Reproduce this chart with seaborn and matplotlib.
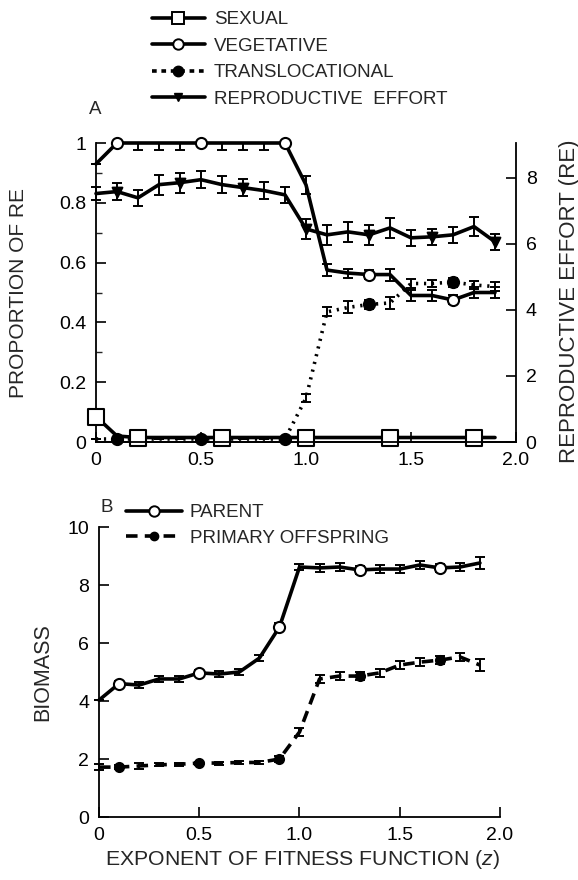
import numpy as np
import matplotlib
matplotlib.use("Agg")
import matplotlib.pyplot as plt
import seaborn as sns
from matplotlib.lines import Line2D
from matplotlib.ticker import MultipleLocator

# exponent of fitness function
z = [0.0, 0.1, 0.2, 0.3, 0.4, 0.5, 0.6, 0.7, 0.8, 0.9,
     1.0, 1.1, 1.2, 1.3, 1.4, 1.5, 1.6, 1.7, 1.8, 1.9]

# panel A: proportion of RE
sexual = [0.085, 0.02, 0.015, 0.015, 0.015, 0.015, 0.015, 0.015, 0.015, 0.015,
          0.015, 0.015, 0.015, 0.015, 0.015, 0.015, 0.015, 0.015, 0.015, 0.015]
vegetative = [0.93, 1.0, 1.0, 1.0, 1.0, 1.0, 1.0, 1.0, 1.0, 1.0,
              0.86, 0.575, 0.565, 0.56, 0.56, 0.49, 0.49, 0.475, 0.50, 0.50]
veg_err_lo = [0, 0, 0.025, 0.025, 0.025, 0, 0.025, 0.025, 0.025, 0,
              0.03, 0.02, 0.015, 0.015, 0.02, 0.02, 0.02, 0.015, 0.02, 0.02]
veg_err_hi = [0, 0, 0, 0, 0, 0, 0, 0, 0, 0,
              0.03, 0.02, 0.015, 0.015, 0.02, 0.02, 0.02, 0.015, 0.02, 0.02]
transloc = [0.01, 0.01, 0.01, 0.01, 0.01, 0.01, 0.01, 0.01, 0.01, 0.01,
            0.147, 0.435, 0.45, 0.46, 0.465, 0.53, 0.53, 0.535, 0.525, 0.52]
trans_err = [0, 0, 0, 0, 0, 0, 0, 0, 0, 0,
             0.012, 0.015, 0.02, 0.015, 0.02, 0.015, 0.012, 0.015, 0.012, 0.015]
# reproductive effort (right axis)
re_eff = [7.52, 7.58, 7.39, 7.79, 7.85, 7.94, 7.79, 7.70, 7.61, 7.48,
          6.45, 6.27, 6.36, 6.27, 6.48, 6.18, 6.21, 6.27, 6.52, 6.06]
re_err = [0.2, 0.25, 0.25, 0.3, 0.3, 0.25, 0.25, 0.25, 0.25, 0.25,
          0.3, 0.3, 0.3, 0.3, 0.3, 0.25, 0.25, 0.25, 0.3, 0.25]

# panel B: biomass
parent = [4.03, 4.6, 4.55, 4.76, 4.76, 4.97, 4.93, 5.0, 5.48, 6.55,
          8.62, 8.59, 8.62, 8.52, 8.55, 8.55, 8.69, 8.59, 8.62, 8.76]
parent_err = [0, 0.1, 0.1, 0.1, 0.1, 0.1, 0.1, 0.1, 0.1, 0.15,
              0.1, 0.15, 0.15, 0.15, 0.15, 0.15, 0.15, 0.15, 0.15, 0.2]
offspring = [1.72, 1.72, 1.76, 1.80, 1.82, 1.86, 1.86, 1.88, 1.88, 2.0,
             2.93, 4.76, 4.86, 4.86, 4.97, 5.24, 5.34, 5.41, 5.52, 5.24]
off_err = [0.1, 0.08, 0.1, 0.05, 0.05, 0.05, 0.05, 0.05, 0.05, 0.1,
           0.15, 0.15, 0.15, 0.15, 0.15, 0.15, 0.15, 0.15, 0.15, 0.2]

x_ticks = [0, 0.5, 1.0, 1.5, 2.0]
x_tick_labels = ["0", "0.5", "1.0", "1.5", "2.0"]
prop_ticks = [0, 0.2, 0.4, 0.6, 0.8, 1.0]
prop_labels = ["0", "0.2", "0.4", "0.6", "0.8", "1"]

sns.set_theme(style="ticks")
plt.rcParams["font.family"] = ["Liberation Sans", "DejaVu Sans"]
plt.rcParams["mathtext.fontset"] = "custom"
plt.rcParams["mathtext.rm"] = "Liberation Sans"
plt.rcParams["mathtext.it"] = "Liberation Sans:italic"
FS_TICK = 14
FS_LAB = 15
FS_LEG = 13.5

fig = plt.figure(figsize=(5.78, 8.8), dpi=100)
axA = fig.add_axes([96 / 578, 1 - 442 / 880, 420 / 578, 299 / 880])
axR = axA.twinx()
axB = fig.add_axes([99 / 578, 1 - 817 / 880, 401 / 578, 290 / 880])

LW = 2.6
dots = (0, (0.6, 1.6))
dashes = (0, (3.2, 2.0))


def pick(vals, idx):
    return [vals[i] for i in idx]


def series(ax, y, err, ls, marker, idx, face, ms, z_order=3):
    sns.lineplot(x=z, y=y, ax=ax, color="black", linewidth=LW, linestyle=ls,
                 clip_on=False, zorder=z_order)
    if err is not None:
        ax.errorbar(z, y, yerr=err, fmt="none", ecolor="black", elinewidth=1.4,
                    capsize=3.5, capthick=1.4, clip_on=False, zorder=z_order)
    sns.scatterplot(x=pick(z, idx), y=pick(y, idx), ax=ax, marker=marker, s=ms ** 2,
                    facecolor=face, edgecolor="black", linewidth=1.5,
                    clip_on=False, zorder=z_order + 1)


# panel A
series(axA, transloc, trans_err, dots, "o", [1, 5, 9, 13, 17], "black", 8)
series(axA, sexual, None, "-", "s", [0, 2, 6, 10, 14, 18], "white", 11)
series(axA, vegetative, [veg_err_lo, veg_err_hi], "-", "o", [1, 5, 9, 13, 17], "white", 8)
series(axR, re_eff, re_err, "-", "v", [1, 4, 7, 10, 13, 16, 19], "black", 7)

axA.set_xlim(0, 2.0)
axA.set_ylim(0, 1.0)
axR.set_ylim(0, 9.05)
axA.set_xticks(x_ticks)
axA.set_xticklabels(x_tick_labels, fontsize=FS_TICK)
axA.set_yticks(prop_ticks)
axA.set_yticklabels(prop_labels, fontsize=FS_TICK)
axA.yaxis.set_minor_locator(MultipleLocator(0.1))
axR.set_yticks([0, 2, 4, 6, 8])
axR.set_yticklabels(["0", "2", "4", "6", "8"], fontsize=FS_TICK)
axA.set_xlabel("")
axA.set_ylabel("")
axR.set_ylabel("")

# panel B
series(axB, offspring, off_err, dashes, "o", [1, 5, 9, 13, 17], "black", 6.5)
series(axB, parent, parent_err, "-", "o", [1, 5, 9, 13, 17], "white", 8)
axB.set_xlim(0, 2.0)
axB.set_ylim(0, 10)
axB.set_xticks(x_ticks)
axB.set_xticklabels(x_tick_labels, fontsize=FS_TICK)
axB.set_yticks([0, 2, 4, 6, 8, 10])
axB.set_yticklabels(["0", "2", "4", "6", "8", "10"], fontsize=FS_TICK)
axB.set_xlabel("")
axB.set_ylabel("")

for ax in (axA, axR, axB):
    ax.tick_params(which="major", direction="in", length=7, width=1.2, pad=7,
                   colors="black")
    ax.tick_params(which="minor", direction="in", length=4, width=1.0)
    for s in ax.spines.values():
        s.set_linewidth(1.3)
        s.set_color("black")
    ax.spines["top"].set_visible(False)
axA.spines["right"].set_visible(False)
axR.spines["left"].set_visible(False)
axB.spines["right"].set_visible(False)
axA.patch.set_visible(False)

# labels
fig.text(19 / 578, 1 - 293 / 880, "PROPORTION OF RE", rotation=90,
         ha="center", va="center", fontsize=FS_LAB)
fig.text(569 / 578, 1 - 301 / 880, "REPRODUCTIVE EFFORT (RE)", rotation=90,
         ha="center", va="center", fontsize=16)
fig.text(43 / 578, 1 - 672 / 880, "BIOMASS", rotation=90,
         ha="center", va="center", fontsize=15.5)
fig.text(302 / 578, 1 - 859 / 880, "EXPONENT OF FITNESS FUNCTION ($z$)",
         ha="center", va="center", fontsize=15.3)
fig.text(95 / 578, 1 - 110 / 880, "A", ha="center", va="center", fontsize=FS_LEG)
fig.text(107 / 578, 1 - 507 / 880, "B", ha="center", va="center", fontsize=FS_LEG)

# legends
hA = [
    Line2D([], [], color="black", lw=LW, marker="s", ms=9, mfc="white", mec="black", mew=1.4),
    Line2D([], [], color="black", lw=LW, marker="o", ms=7.5, mfc="white", mec="black", mew=1.4),
    Line2D([], [], color="black", lw=LW, ls=(0, (1.3, 1.3)), marker="o", ms=7.5, mfc="black", mec="black"),
    Line2D([], [], color="black", lw=LW, marker="v", ms=6, mfc="black", mec="black"),
]
fig.legend(hA, ["SEXUAL", "VEGETATIVE", "TRANSLOCATIONAL", "REPRODUCTIVE  EFFORT"],
           loc="upper left", bbox_to_anchor=(152 / 578, 1 - 11 / 880), frameon=False,
           fontsize=FS_LEG, handlelength=2.8, handletextpad=0.5, labelspacing=0.5,
           borderpad=0, borderaxespad=0)
hB = [
    Line2D([], [], color="black", lw=LW, marker="o", ms=7.5, mfc="white", mec="black", mew=1.4),
    Line2D([], [], color="black", lw=LW, ls=dashes, marker="o", ms=6, mfc="black", mec="black"),
]
fig.legend(hB, ["PARENT", "PRIMARY OFFSPRING"],
           loc="upper left", bbox_to_anchor=(126 / 578, 1 - 504 / 880), frameon=False,
           fontsize=FS_LEG, handlelength=3.0, handletextpad=0.4, labelspacing=0.45,
           borderpad=0, borderaxespad=0)

fig.savefig("out.png", dpi=100)
